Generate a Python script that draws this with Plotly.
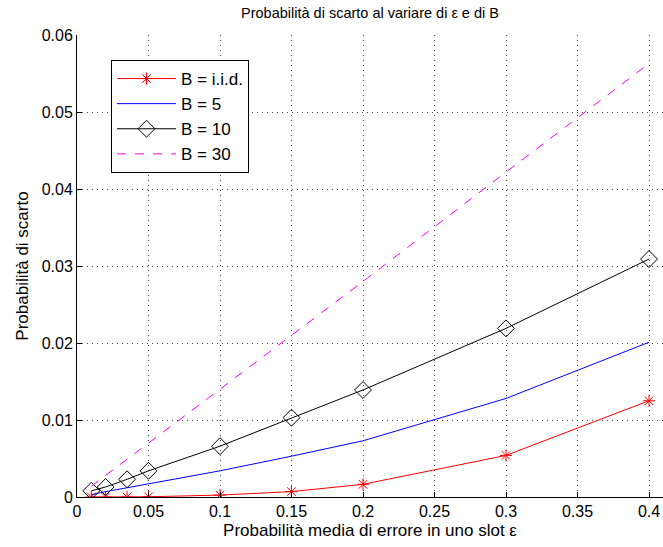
import plotly.graph_objects as go

eps = [0.01, 0.02, 0.035, 0.05, 0.1, 0.15, 0.2, 0.3, 0.4]
p_iid = [0.0, 0.0, 0.0, 0.00003, 0.00025, 0.0007, 0.00165, 0.0054, 0.0125]
p_b5 = [0.0003, 0.0007, 0.0012, 0.0017, 0.0034, 0.0053, 0.0073, 0.0128, 0.0201]
p_b10 = [0.0008, 0.0013, 0.0023, 0.0034, 0.0066, 0.0103, 0.0139, 0.0219, 0.0309]
p_b30 = [0.0014, 0.0028, 0.0049, 0.007, 0.014, 0.021, 0.028, 0.0422, 0.0563]

xticks = [0, 0.05, 0.1, 0.15, 0.2, 0.25, 0.3, 0.35, 0.4]
xticklabels = ["0", "0.05", "0.1", "0.15", "0.2", "0.25", "0.3", "0.35", "0.4"]
yticks = [0, 0.01, 0.02, 0.03, 0.04, 0.05, 0.06]
yticklabels = ["0", "0.01", "0.02", "0.03", "0.04", "0.05", "0.06"]

fig = go.Figure()
fig.add_trace(go.Scatter(x=eps, y=p_iid, name="B = i.i.d.", mode="lines+markers",
                         line=dict(color="#ff0000", width=1),
                         marker=dict(symbol="asterisk-open", size=10, color="#ff0000",
                                     line=dict(color="#ff0000", width=1))))
fig.add_trace(go.Scatter(x=eps, y=p_b5, name="B = 5", mode="lines",
                         line=dict(color="#0000ff", width=1)))
fig.add_trace(go.Scatter(x=eps, y=p_b10, name="B = 10", mode="lines+markers",
                         line=dict(color="#000000", width=1),
                         marker=dict(symbol="diamond-open", size=13, color="#000000",
                                     line=dict(color="#000000", width=1))))
fig.add_trace(go.Scatter(x=eps, y=p_b30, name="B = 30", mode="lines",
                         line=dict(color="#ff00ff", width=1, dash="dash")))

font = "Liberation Sans, Arial, sans-serif"
grid = dict(showgrid=True, gridcolor="rgb(70,70,70)", griddash="1px,4px", gridwidth=1,
            showline=True, linecolor="black", linewidth=1, mirror=False,
            ticks="inside", ticklen=5, tickcolor="black", zeroline=False,
            tickfont=dict(size=16))
fig.update_layout(
    width=663, height=547,
    margin=dict(l=77, r=0, t=35, b=50),
    paper_bgcolor="white", plot_bgcolor="white",
    font=dict(family=font, size=16, color="black"),
    title=dict(text="Probabilità di scarto al variare di ε e di B", x=(77 + 663) / 2 / 663,
               xanchor="center", y=1 - 13 / 547, yanchor="middle",
               font=dict(size=14.5, family=font)),
    showlegend=True,
    legend=dict(x=(111 - 77) / 586, y=(497 - 60) / 462, xanchor="left", yanchor="top",
                bgcolor="white", bordercolor="black", borderwidth=1,
                font=dict(size=17, family=font), tracegroupgap=0,
                itemwidth=59),
    xaxis=dict(range=[0, 0.4 * 586 / 572], tickvals=xticks, ticktext=xticklabels,
               title=dict(text="Probabilità media di errore in uno slot ε", standoff=4,
                          font=dict(size=17)),
               **grid),
    yaxis=dict(range=[0, 0.06], tickvals=yticks, ticktext=yticklabels,
               title=dict(text="Probabilità di scarto", standoff=8, font=dict(size=17)),
               **grid),
)

fig.write_html("out.html")
